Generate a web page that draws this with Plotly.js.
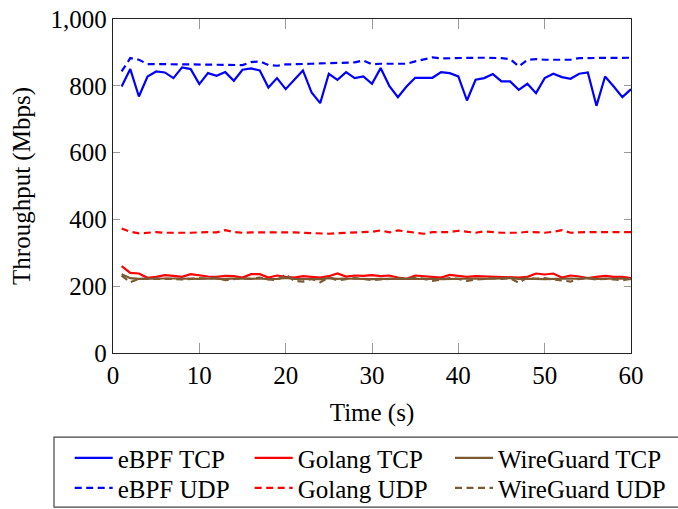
<!DOCTYPE html>
<html>
<head>
<meta charset="utf-8">
<script src="https://cdn.plot.ly/plotly-3.0.1.min.js"></script>
<style>html,body{margin:0;padding:0;background:#fff;}#chart{width:678px;height:509px;}</style>
</head>
<body>
<div id="chart"></div>
<script>
const time = Array.from({length: 60}, (_, i) => i + 1);

const ebpfTcp = [798,850,768,828,843,840,823,855,850,805,838,830,841,815,848,852,846,795,823,790,818,846,780,748,836,818,841,823,828,806,853,800,766,798,824,824,824,841,838,828,756,818,823,835,813,813,788,806,778,823,836,826,821,836,840,740,828,798,766,790];
const ebpfUdp = [843,883,878,865,865,864,864,864,864,864,863,864,863,862,862,871,873,862,860,864,864,866,866,867,868,870,870,870,876,864,866,866,864,866,873,880,885,882,883,883,883,884,884,884,883,880,858,878,880,878,878,878,878,883,883,883,883,883,883,884];
const golangTcp = [260,240,238,225,228,233,231,228,236,232,229,228,231,230,226,236,236,226,232,228,226,230,228,226,230,238,229,232,231,233,230,232,226,222,232,230,227,226,234,231,228,230,229,230,228,228,226,228,238,235,238,226,232,229,224,228,231,228,228,224];
const golangUdp = [373,363,358,360,362,360,361,360,360,362,362,361,368,362,360,361,360,361,361,362,361,360,359,358,357,359,360,361,362,363,367,361,367,364,361,357,362,362,362,366,362,360,364,361,360,360,360,363,362,360,363,368,360,362,362,362,362,362,362,362];
const wgTcp = [236,224,222,223,222,223,223,222,221,222,223,222,221,223,222,222,223,221,222,225,222,221,222,221,224,222,223,222,223,221,222,222,223,222,224,223,222,221,222,223,222,223,222,223,222,224,222,223,222,221,222,222,223,222,224,222,223,222,223,221];
const wgUdp = [232,212,222,222,224,224,222,220,222,224,222,226,218,222,224,222,226,220,218,236,216,214,222,212,226,218,220,224,222,218,220,222,224,222,226,222,216,220,224,222,216,220,222,224,222,224,210,226,222,224,220,216,214,222,224,220,222,220,218,222];

const seriesNames = ['eBPF TCP','Golang TCP','WireGuard TCP','eBPF UDP','Golang UDP','WireGuard UDP'];
const seriesData = [ebpfTcp, golangTcp, wgTcp, ebpfUdp, golangUdp, wgUdp];
const seriesColors = ['#0000ff','#ff0000','#7b5a33','#0000ff','#ff0000','#7b5a33'];
const seriesDash = ['solid','solid','solid','7px,4.5px','7px,4.5px','7px,4.5px'];

const legendIds = ['legend','legend2','legend3','legend4','legend5','legend6'];

const traces = seriesNames.map((n, i) => ({
  type: 'scatter', mode: 'lines', name: n, x: time, y: seriesData[i],
  line: {color: seriesColors[i], width: 2.2, dash: seriesDash[i]},
  legend: legendIds[i]
}));

const font = {family: 'Liberation Serif, Times New Roman, serif', size: 25, color: '#000'};

// plot area in pixels: x 113..631, y 19.3..353.3
const px2x = p => (p - 113) / 518;
const px2y = p => (353.3 - p) / 334;

const colText = [117.7, 297.7, 498];
const rowMid = [458.5, 488.5];

const layout = {
  width: 678, height: 509,
  margin: {l: 113, r: 47, t: 19.3, b: 155.7, autoexpand: false},
  paper_bgcolor: '#fff', plot_bgcolor: '#fff',
  font: font,
  showlegend: true,
  xaxis: {
    range: [0, 60], dtick: 10, tick0: 0,
    showgrid: false, zeroline: false,
    showline: true, linecolor: '#222', linewidth: 1.2, mirror: 'allticks',
    ticks: 'inside', ticklen: 10, tickcolor: '#9a9a9a', tickwidth: 1,
    tickfont: font,
    title: {text: 'Time (s)', font: font, standoff: 15}
  },
  yaxis: {
    range: [0, 1000], dtick: 200, tick0: 0, tickformat: ',d',
    showgrid: false, zeroline: false,
    showline: true, linecolor: '#222', linewidth: 1.2, mirror: 'allticks',
    ticks: 'inside', ticklen: 7, tickcolor: '#9a9a9a', tickwidth: 1,
    tickfont: font,
    title: {text: 'Throughput (Mbps)', font: font, standoff: 12}
  },
  shapes: [{
    type: 'rect', xref: 'paper', yref: 'paper',
    x0: px2x(54), x1: px2x(690),
    y0: px2y(437.5), y1: px2y(507.5),
    line: {color: '#444', width: 1.2}, fillcolor: 'rgba(0,0,0,0)', layer: 'above'
  }]
};

legendIds.forEach((id, i) => {
  const c = i % 3, r = Math.floor(i / 3);
  layout[id] = {
    orientation: 'v', itemwidth: 38,
    x: px2x(colText[c] - 48), xanchor: 'left',
    y: px2y(rowMid[r]), yanchor: 'middle',
    font: font, bgcolor: 'rgba(0,0,0,0)', borderwidth: 0
  };
});

Plotly.newPlot('chart', traces, layout, {displayModeBar: false, staticPlot: true});
</script>
</body>
</html>
